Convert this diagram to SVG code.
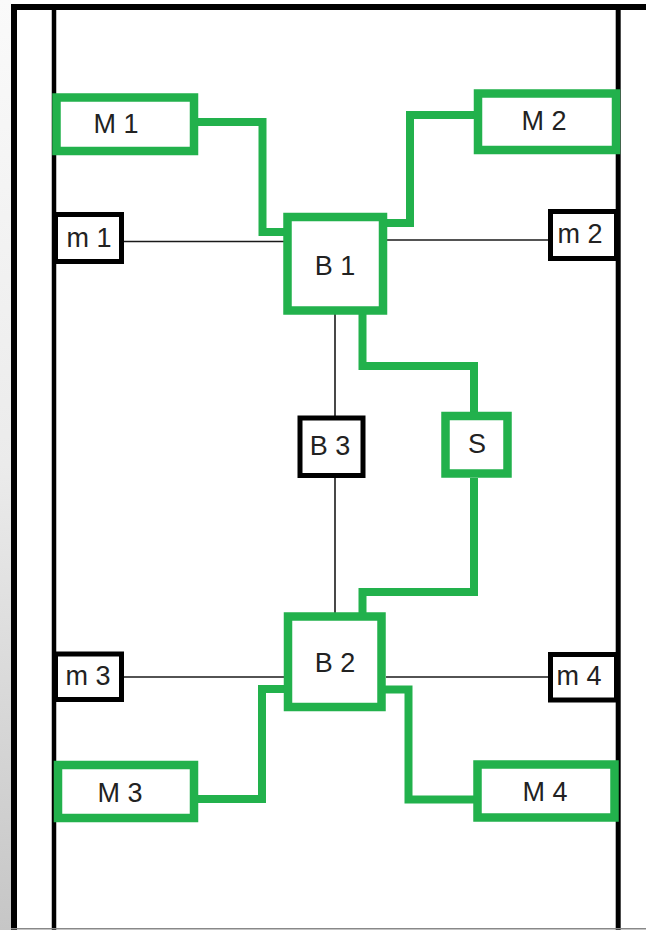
<svg xmlns="http://www.w3.org/2000/svg" width="646" height="930" viewBox="0 0 646 930">
<defs>
<linearGradient id="side" x1="0" y1="0" x2="0" y2="1">
<stop offset="0" stop-color="#fafafa"/>
<stop offset="0.5" stop-color="#ebebeb"/>
<stop offset="1" stop-color="#c6c6c6"/>
</linearGradient>
<style>
.frame{fill:none;stroke:#000;}
.big{fill:#fff;stroke:#22b14c;stroke-width:8.5;}
.small{fill:#fff;stroke:#000;stroke-width:5;}
.wire{fill:none;stroke:#22b14c;stroke-width:8;stroke-linejoin:miter;}
.thin{fill:none;stroke:#1a1a1a;stroke-width:1.6;}
text{font-family:"Liberation Sans",Arial,sans-serif;font-size:27px;fill:#222;text-anchor:middle;}
</style>
</defs>
<rect x="0" y="0" width="646" height="930" fill="#fff"/>
<rect x="0" y="0" width="11" height="930" fill="url(#side)"/>
<g id="frame">
<line class="frame" x1="14" y1="4" x2="14" y2="930" stroke-width="6"/>
<line class="frame" x1="11" y1="7" x2="646" y2="7" stroke-width="6"/>
<line class="frame" x1="54" y1="7" x2="54" y2="930" stroke-width="4.5"/>
<line class="frame" x1="618.2" y1="7" x2="618.2" y2="930" stroke-width="5"/>
<line x1="11" y1="928.8" x2="646" y2="928.8" stroke="#888" stroke-width="1.5"/>
</g>
<g id="connectors">
<line class="thin" x1="124" y1="241.5" x2="285" y2="241.5"/>
<line class="thin" x1="387" y1="240" x2="548" y2="240"/>
<line class="thin" x1="335" y1="314" x2="335" y2="416"/>
<line class="thin" x1="335" y1="478" x2="335" y2="613"/>
<line class="thin" x1="124" y1="677" x2="285" y2="677"/>
<line class="thin" x1="386" y1="677" x2="548" y2="677"/>
<polyline class="wire" points="194,122 262.5,122 262.5,232 287,232"/>
<polyline class="wire" points="478,115 410,115 410,223 383,223"/>
<polyline class="wire" points="362.5,310 362.5,366 474,366 474,412"/>
<polyline class="wire" points="474,478 474,592 362.5,592 362.5,616"/>
<polyline class="wire" points="194,799 262,799 262,689 288,689"/>
<polyline class="wire" points="381,689.5 408.5,689.5 408.5,799.5 477.5,799.5"/>
</g>
<g id="M1"><rect class="big" x="56.5" y="97.5" width="137.5" height="53.5"/><text x="116" y="133">M 1</text></g>
<g id="M2"><rect class="big" x="478" y="93.5" width="138" height="56.5"/><text x="544" y="130">M 2</text></g>
<g id="M3"><rect class="big" x="58" y="765" width="136" height="53"/><text x="120" y="801.5">M 3</text></g>
<g id="M4"><rect class="big" x="477.5" y="764.5" width="137" height="53"/><text x="545" y="801">M 4</text></g>
<g id="m1"><rect class="small" x="55.5" y="214.5" width="66" height="47"/><text x="89" y="247">m 1</text></g>
<g id="m2"><rect class="small" x="550.5" y="211.5" width="66" height="47"/><text x="580" y="243">m 2</text></g>
<g id="m3"><rect class="small" x="55.5" y="654" width="66" height="45.5"/><text x="88" y="685">m 3</text></g>
<g id="m4"><rect class="small" x="550.5" y="654.5" width="66" height="45.5"/><text x="579" y="685">m 4</text></g>
<g id="B1"><rect class="big" x="287.5" y="217" width="95.5" height="93.5" stroke-width="9"/><text x="335" y="275">B 1</text></g>
<g id="B2"><rect class="big" x="288" y="616.5" width="93.5" height="90.5" stroke-width="9"/><text x="335" y="672">B 2</text></g>
<g id="B3"><rect class="small" x="300" y="418" width="63" height="57.5"/><text x="330" y="455">B 3</text></g>
<g id="S"><rect class="big" x="445.5" y="416" width="62" height="57.5" stroke-width="9"/><text x="477" y="453">S</text></g>
</svg>
